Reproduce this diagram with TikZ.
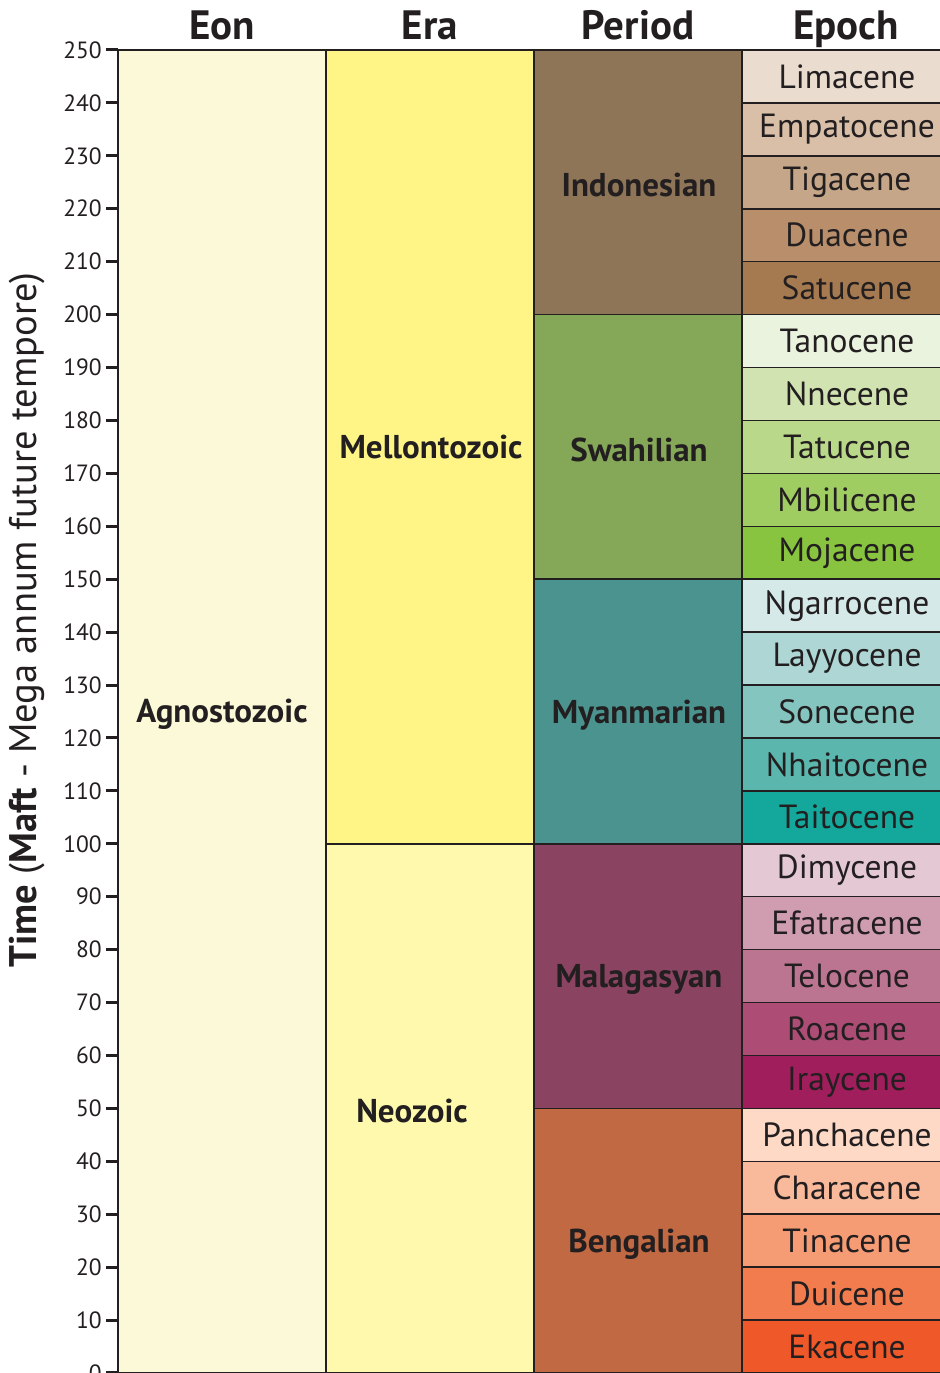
\documentclass[tikz,border=0pt]{standalone}
\usepackage{fontspec}
\setmainfont{PT Sans}
\definecolor{ink}{HTML}{231F20}
\definecolor{agnosto}{HTML}{FBF9D8}
\definecolor{mellonto}{HTML}{FFF587}
\definecolor{neo}{HTML}{FFF9AE}
\definecolor{indonesian}{HTML}{8F7557}
\definecolor{swahilian}{HTML}{84A857}
\definecolor{myanmarian}{HTML}{4A938F}
\definecolor{malagasyan}{HTML}{8A4461}
\definecolor{bengalian}{HTML}{C06942}
\definecolor{limacene}{HTML}{EADCCF}
\definecolor{empatocene}{HTML}{D9BFA7}
\definecolor{tigacene}{HTML}{C6A688}
\definecolor{duacene}{HTML}{B98E6B}
\definecolor{satucene}{HTML}{A67A50}
\definecolor{tanocene}{HTML}{EAF3DE}
\definecolor{nnecene}{HTML}{D1E3B0}
\definecolor{tatucene}{HTML}{B9D889}
\definecolor{mbilicene}{HTML}{A0CD62}
\definecolor{mojacene}{HTML}{88C440}
\definecolor{ngarrocene}{HTML}{D5E9E8}
\definecolor{layyocene}{HTML}{ADD6D4}
\definecolor{sonecene}{HTML}{85C5BF}
\definecolor{nhaitocene}{HTML}{5BB6AE}
\definecolor{taitocene}{HTML}{13A89B}
\definecolor{dimycene}{HTML}{E4C8D4}
\definecolor{efatracene}{HTML}{CF9DAF}
\definecolor{telocene}{HTML}{BC7590}
\definecolor{roacene}{HTML}{AD4D75}
\definecolor{iraycene}{HTML}{9F1E5B}
\definecolor{panchacene}{HTML}{FDD9C6}
\definecolor{characene}{HTML}{F9B99B}
\definecolor{tinacene}{HTML}{F69C74}
\definecolor{duicene}{HTML}{F27C4D}
\definecolor{ekacene}{HTML}{EF592A}
\tikzset{
  cell/.style={draw=ink, line width=1.5pt},
  header/.style={font=\fontsize{41}{45}\selectfont\bfseries, text=ink, anchor=base},
  unitlabel/.style={font=\fontsize{33}{37}\selectfont\bfseries, text=ink},
  epochlabel/.style={font=\fontsize{33.5}{37}\selectfont, text=ink},
  ticklabel/.style={font=\fontsize{23.5}{28}\selectfont, text=ink, anchor=east, inner sep=0pt}
}
\begin{document}
\begin{tikzpicture}[x=1pt, y=5.292pt]
  \useasboundingbox (0,0) rectangle (940,259.45);
  % eon
  \draw[cell, fill=agnosto] (118,0) rectangle (326,250);
  \node[unitlabel] (agnostozoic) at (222,124.4) {Agnostozoic};
  % eras
  \draw[cell, fill=mellonto] (326,100) rectangle (534,250);
  \draw[cell, fill=neo] (326,0) rectangle (534,100);
  \node[unitlabel] (mellontozoic) at (431,175) {Mellontozoic};
  \node[unitlabel] (neozoic) at (412,49.6) {Neozoic};
  % periods
  \foreach \name/\col [count=\i from 0] in {Bengalian/bengalian, Malagasyan/malagasyan,
      Myanmarian/myanmarian, Swahilian/swahilian, Indonesian/indonesian} {
    \draw[cell, fill=\col] (534,50*\i) rectangle ++(208,50);
    \node[unitlabel] (\col) at (639,50*\i+24.4) {\name};
  }
  % epochs
  \foreach \name/\col [count=\i from 0] in {Ekacene/ekacene, Duicene/duicene, Tinacene/tinacene,
      Characene/characene, Panchacene/panchacene, Iraycene/iraycene, Roacene/roacene,
      Telocene/telocene, Efatracene/efatracene, Dimycene/dimycene, Taitocene/taitocene,
      Nhaitocene/nhaitocene, Sonecene/sonecene, Layyocene/layyocene, Ngarrocene/ngarrocene,
      Mojacene/mojacene, Mbilicene/mbilicene, Tatucene/tatucene, Nnecene/nnecene,
      Tanocene/tanocene, Satucene/satucene, Duacene/duacene, Tigacene/tigacene,
      Empatocene/empatocene, Limacene/limacene} {
    \draw[cell, fill=\col] (742,10*\i) rectangle ++(200,10);
    \node[epochlabel] (\col) at (847,10*\i+5) {\name};
  }
  % axis
  \draw[ink, line width=2pt] (118,0) -- (118,250);
  \foreach \t in {0,10,...,250} {
    \draw[ink, line width=3pt] (106,\t) -- (118,\t);
    \node[ticklabel] (tick\t) at (102,\t) {\t};
  }
  \node[font=\fontsize{38.5}{42}\selectfont, text=ink, rotate=90] (timeaxis) at (27,142.3)
    {\textbf{Time} (\textbf{Maft} - Mega annum future tempore)};
  % headers
  \node[header] (eon) at (222,251.9) {Eon};
  \node[header] (era) at (430,251.9) {Era};
  \node[header] (period) at (638,251.9) {Period};
  \node[header] (epoch) at (846,251.9) {Epoch};
\end{tikzpicture}
\end{document}
